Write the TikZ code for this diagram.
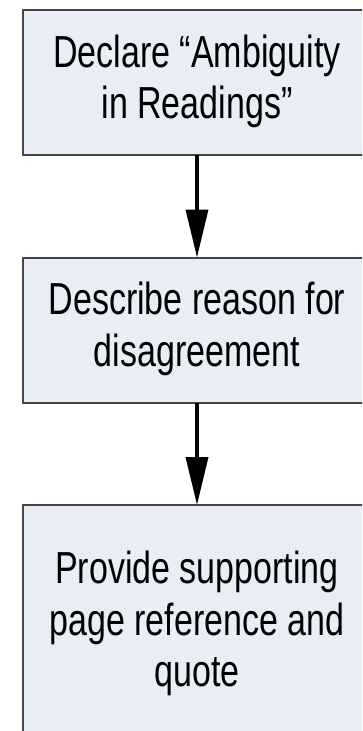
\documentclass[tikz,border=0pt]{standalone}
\usepackage{fontspec}
\setmainfont{Liberation Sans}
\usetikzlibrary{arrows.meta}
\definecolor{boxfill}{RGB}{233,237,246}
\definecolor{boxline}{RGB}{70,70,70}
\newcommand{\boxtext}[1]{\scalebox{1}[1.32]{\fontsize{34}{39}\selectfont\begin{tabular}{@{}c@{}}#1\end{tabular}}}
\begin{document}
\begin{tikzpicture}[x=1pt,y=-1pt,
  flowbox/.style={draw=boxline, fill=boxfill, line width=2pt, minimum width=348pt, inner sep=0pt, outer sep=0pt},
  flowarrow/.style={line width=3.5pt, -{Triangle[width=22pt,length=48pt]}}]
\useasboundingbox (0,0) rectangle (362,731);
\clip (0,0) rectangle (362,731);
\fill[white] (0,0) rectangle (362,731);
\node[flowbox, minimum height=145pt] (b1) at (197,82.5) {\boxtext{Declare “Ambiguity\\in Readings”}};
\node[flowbox, minimum height=145pt] (b2) at (197,330) {\boxtext{Describe reason for\\disagreement}};
\node[flowbox, minimum height=240pt, anchor=north] (b3) at (197,505) {\raisebox{11pt}{\boxtext{Provide supporting\\page reference and\\quote}}};
\draw[flowarrow] (b1.south) -- (b2.north);
\draw[flowarrow] (b2.south) -- (b3.north);
\end{tikzpicture}
\end{document}
